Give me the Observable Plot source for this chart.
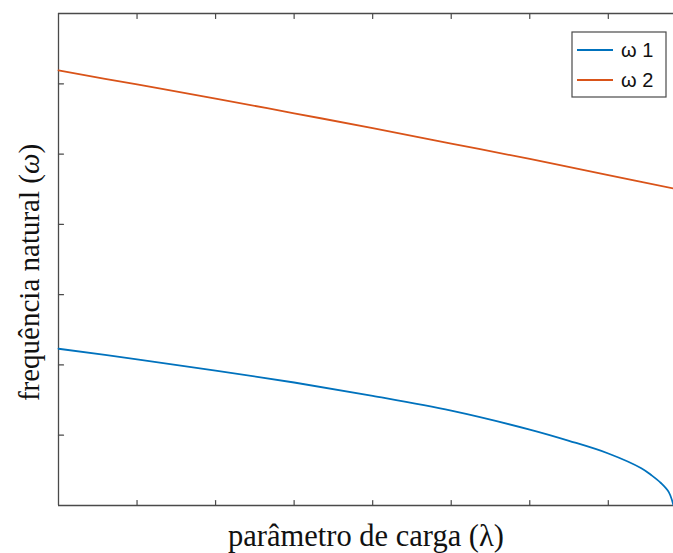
<!DOCTYPE html>
<html>
<head>
<meta charset="utf-8">
<script src="https://cdn.jsdelivr.net/npm/d3@7"></script>
<script src="https://cdn.jsdelivr.net/npm/@observablehq/plot@0.6"></script>
<style>
  html, body { margin: 0; padding: 0; background: #fff; }
  #chart svg { display: block; }
</style>
</head>
<body>
<div id="chart"></div>
<script>
// Values (unlabelled axes; x in 0.1 steps, y in unit steps)
const lambda1 = [0, 0.1, 0.2, 0.3, 0.4, 0.5, 0.6, 0.65, 0.7, 0.742, 0.755, 0.767, 0.777, 0.783];
const omega1  = [2.23, 2.08, 1.92, 1.75, 1.56, 1.35, 1.08, 0.92, 0.74, 0.53, 0.43, 0.32, 0.19, 0];
const lambda2 = [0, 0.1, 0.2, 0.3, 0.4, 0.5, 0.6, 0.7, 0.783];
const omega2  = [6.19, 5.99, 5.79, 5.58, 5.37, 5.15, 4.93, 4.70, 4.51];
const xTicks = [0.1, 0.2, 0.3, 0.4, 0.5, 0.6, 0.7];
const yTicks = [1, 2, 3, 4, 5, 6];
const seriesNames = ["ω 1", "ω 2"];
const seriesColors = ["#0072BD", "#D95319"];
const xLabel = "parâmetro de carga (λ)";
const yLabel = "frequência natural (ω)";

const s1 = lambda1.map((l, i) => ({lambda: l, omega: omega1[i], s: seriesNames[0]}));
const s2 = lambda2.map((l, i) => ({lambda: l, omega: omega2[i], s: seriesNames[1]}));

const axisColor = "#4a4a4a";
const tickShape = {draw(context, l) { context.moveTo(0, 0); context.lineTo(0, -l); }};

const chart = Plot.plot({
  width: 673,
  height: 553,
  marginLeft: 58,
  marginTop: 13,
  marginBottom: 48,
  marginRight: 0,
  x: {domain: [0, 0.783], axis: null},
  y: {domain: [0, 7], axis: null},
  marks: [
    Plot.ruleY([0, 7], {stroke: axisColor, strokeWidth: 1.3}),
    Plot.ruleX([0], {stroke: axisColor, strokeWidth: 1.3}),
    Plot.vector(xTicks, {x: d => d, y: () => 0, length: 5, rotate: 0, anchor: "start", shape: tickShape, stroke: axisColor, strokeWidth: 1.2}),
    Plot.vector(xTicks, {x: d => d, y: () => 7, length: 5, rotate: 180, anchor: "start", shape: tickShape, stroke: axisColor, strokeWidth: 1.2}),
    Plot.vector(yTicks, {x: () => 0, y: d => d, length: 5, rotate: 90, anchor: "start", shape: tickShape, stroke: axisColor, strokeWidth: 1.2}),
    Plot.line(s1, {x: "lambda", y: "omega", stroke: seriesColors[0], strokeWidth: 1.8, curve: "catmull-rom"}),
    Plot.line(s2, {x: "lambda", y: "omega", stroke: seriesColors[1], strokeWidth: 1.8, curve: "catmull-rom"}),
    Plot.text([xLabel], {frameAnchor: "bottom", textAnchor: "middle", lineAnchor: "middle", dy: 31, fontSize: 30.5, fontFamily: "Liberation Serif", fill: "#111"}),
    Plot.text([yLabel], {frameAnchor: "left", textAnchor: "middle", lineAnchor: "middle", dx: -29, dy: 13, rotate: -90, fontSize: 29, fontFamily: "Liberation Serif", fill: "#111"})
  ]
});

document.getElementById("chart").appendChild(chart);

// italic omega in y label
const svg = d3.select(chart);
svg.selectAll("text").each(function() {
  const t = d3.select(this);
  if (t.text() === yLabel) {
    t.text("frequência natural (");
    t.append("tspan").style("font-style", "italic").text("ω");
    t.append("tspan").text(")");
  }
});

// legend
const lg = svg.append("g").attr("class", "legend");
lg.append("rect").attr("x", 572).attr("y", 32).attr("width", 94).attr("height", 65)
  .attr("fill", "#fff").attr("stroke", axisColor).attr("stroke-width", 1.2);
seriesNames.forEach((name, i) => {
  const cy = 50 + i * 30;
  lg.append("line").attr("x1", 577).attr("x2", 613).attr("y1", cy).attr("y2", cy)
    .attr("stroke", seriesColors[i]).attr("stroke-width", 2);
  lg.append("text").attr("x", 621).attr("y", cy).attr("dy", "0.36em")
    .attr("text-anchor", "start")
    .attr("font-family", "Liberation Sans, Arial, sans-serif").attr("font-size", 20)
    .attr("fill", "#111").text(name);
});
</script>
</body>
</html>
